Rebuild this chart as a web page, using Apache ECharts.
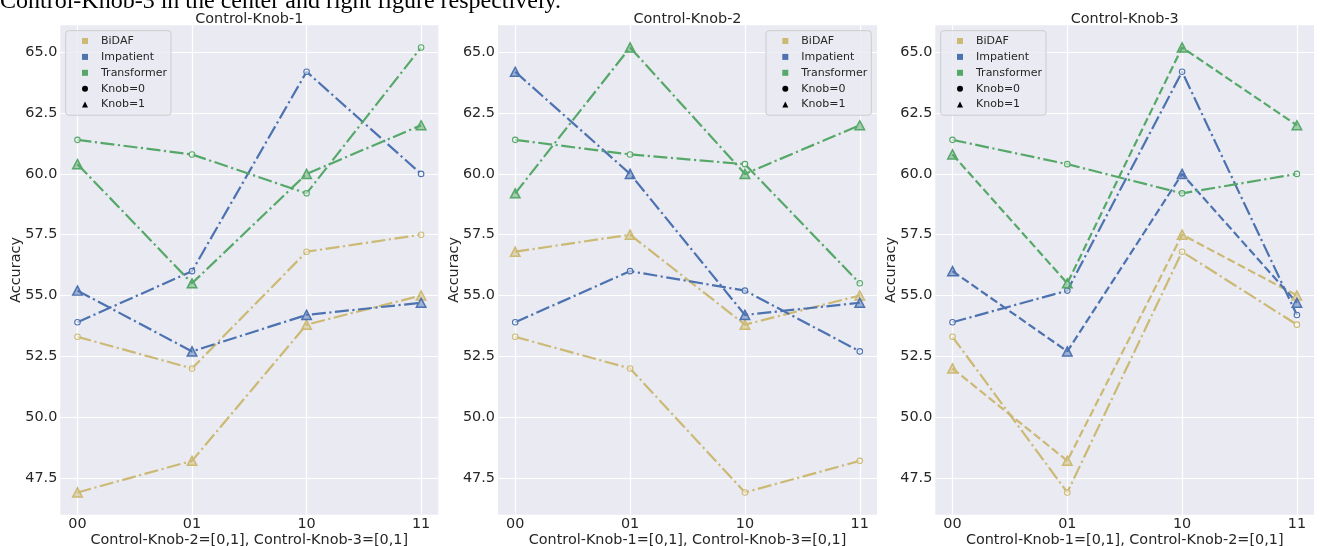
<!DOCTYPE html>
<html>
<head>
<meta charset="utf-8">
<script src="https://cdn.jsdelivr.net/npm/echarts@6/dist/echarts.min.js"></script>
<style>
html,body{margin:0;padding:0;background:#fff;}
#c{width:1320px;height:546px;}
</style>
</head>
<body>
<div id="c"></div>
<script>
// ---- data ----
const xLabels = ['00', '01', '10', '11'];
const yTicks = [47.5, 50.0, 52.5, 55.0, 57.5, 60.0, 62.5, 65.0];
const panelTitles = ['Control-Knob-1', 'Control-Knob-2', 'Control-Knob-3'];
const xNames = ['Control-Knob-2=[0,1], Control-Knob-3=[0,1]',
                'Control-Knob-1=[0,1], Control-Knob-3=[0,1]',
                'Control-Knob-1=[0,1], Control-Knob-2=[0,1]'];
const models = ['BiDAF', 'Impatient', 'Transformer'];
const caption = 'Control-Knob-3 in the center and right figure respectively.';

// panel 1
const p1_bidaf_k0 = [53.3, 52.0, 56.8, 57.5];
const p1_bidaf_k1 = [46.9, 48.2, 53.8, 55.0];
const p1_imp_k0 = [53.9, 56.0, 64.2, 60.0];
const p1_imp_k1 = [55.2, 52.7, 54.2, 54.7];
const p1_tr_k0 = [61.4, 60.8, 59.2, 65.2];
const p1_tr_k1 = [60.4, 55.5, 60.0, 62.0];
// panel 2
const p2_bidaf_k0 = [53.3, 52.0, 46.9, 48.2];
const p2_bidaf_k1 = [56.8, 57.5, 53.8, 55.0];
const p2_imp_k0 = [53.9, 56.0, 55.2, 52.7];
const p2_imp_k1 = [64.2, 60.0, 54.2, 54.7];
const p2_tr_k0 = [61.4, 60.8, 60.4, 55.5];
const p2_tr_k1 = [59.2, 65.2, 60.0, 62.0];
// panel 3
const p3_bidaf_k0 = [53.3, 46.9, 56.8, 53.8];
const p3_bidaf_k1 = [52.0, 48.2, 57.5, 55.0];
const p3_imp_k0 = [53.9, 55.2, 64.2, 54.2];
const p3_imp_k1 = [56.0, 52.7, 60.0, 54.7];
const p3_tr_k0 = [61.4, 60.4, 59.2, 60.0];
const p3_tr_k1 = [60.8, 55.5, 65.2, 62.0];

const panels = [
  [[p1_bidaf_k0, p1_bidaf_k1], [p1_imp_k0, p1_imp_k1], [p1_tr_k0, p1_tr_k1]],
  [[p2_bidaf_k0, p2_bidaf_k1], [p2_imp_k0, p2_imp_k1], [p2_tr_k0, p2_tr_k1]],
  [[p3_bidaf_k0, p3_bidaf_k1], [p3_imp_k0, p3_imp_k1], [p3_tr_k0, p3_tr_k1]]
];

// ---- styles ----
const colors = ['#ccb974', '#4c72b0', '#55a868'];
const fillAlpha = ['rgba(204,185,116,0.5)', 'rgba(76,114,176,0.5)', 'rgba(85,168,104,0.5)'];
const FONT = 'DejaVu Sans';
const TXT = '#262626';
const grids = [
  {left: 60.3, width: 378, top: 25.2, height: 489.5},
  {left: 498.0, width: 379, top: 25.2, height: 489.5},
  {left: 935.3, width: 378.8, top: 25.2, height: 489.5}
];
const legendLefts = [65.7, 766, 940.7];
const dashDot = [14, 3.5, 2.2, 3.5];
const dashed = [8.1, 3.5];
// line style per panel: [knob0, knob1]
const panelDash = [[dashDot, dashDot], [dashDot, dashDot], [dashDot, dashed]];

const option = {
  animation: false,
  backgroundColor: '#ffffff',
  textStyle: {fontFamily: FONT},
  graphic: [{
    type: 'text', left: 0, top: -10,
    style: {text: caption, font: '24px "Liberation Serif"', fill: '#000'}
  }],
  title: [],
  grid: [],
  xAxis: [],
  yAxis: [],
  legend: [],
  series: []
};

grids.forEach((g, i) => {
  option.grid.push(Object.assign({show: true, backgroundColor: '#eaeaf2', borderWidth: 0,
    containLabel: false, outerBoundsMode: 'none'}, g));
  option.title.push({
    text: panelTitles[i], left: g.left + g.width / 2, top: 11, textAlign: 'center', padding: 0,
    textStyle: {fontFamily: FONT, fontSize: 14.4, fontWeight: 'normal', color: TXT, lineHeight: 16}
  });
  option.xAxis.push({
    gridIndex: i, type: 'value', min: -0.15, max: 3.15,
    axisLine: {show: false}, axisTick: {show: false, customValues: [0, 1, 2, 3]},
    axisLabel: {customValues: [0, 1, 2, 3], formatter: v => xLabels[Math.round(v)],
      fontFamily: FONT, fontSize: 14.4, color: TXT, margin: 2.5},
    splitLine: {show: true, lineStyle: {color: '#ffffff', width: 1.2}},
    name: xNames[i], nameLocation: 'middle', nameGap: 19, nameMoveOverlap: false,
    nameTextStyle: {fontFamily: FONT, fontSize: 14.4, color: TXT}
  });
  option.yAxis.push({
    gridIndex: i, type: 'value', min: 45.985, max: 66.115,
    axisLine: {show: false}, axisTick: {show: false, customValues: yTicks},
    axisLabel: {customValues: yTicks, formatter: v => v.toFixed(1),
      fontFamily: FONT, fontSize: 14.4, color: TXT, margin: 3},
    splitLine: {show: true, lineStyle: {color: '#ffffff', width: 1.2}},
    name: 'Accuracy', nameLocation: 'middle', nameGap: 37, nameRotate: 90, nameMoveOverlap: false,
    nameTextStyle: {fontFamily: FONT, fontSize: 14.4, color: TXT}
  });
  option.legend.push({
    orient: 'vertical', left: legendLefts[i], top: 30.7,
    padding: [4.3, 4, 4.6, 16.3],
    backgroundColor: 'rgba(234,234,242,0.8)', borderColor: '#cccccc', borderWidth: 1, borderRadius: 3,
    itemWidth: 6, itemHeight: 6, itemGap: 3.9,
    selectedMode: false,
    textStyle: {fontFamily: FONT, fontSize: 11, color: TXT, lineHeight: 12, padding: [0, 0, 0, 8]},
    itemStyle: {borderWidth: 0},
    data: [
      {name: models[0], icon: 'rect', itemStyle: {color: colors[0], borderWidth: 0}},
      {name: models[1], icon: 'rect', itemStyle: {color: colors[1], borderWidth: 0}},
      {name: models[2], icon: 'rect', itemStyle: {color: colors[2], borderWidth: 0}},
      {name: 'Knob=0', icon: 'circle', itemStyle: {color: '#000', borderWidth: 0}},
      {name: 'Knob=1', icon: 'triangle', itemStyle: {color: '#000', borderWidth: 0}}
    ],
    z: 10
  });

  panels[i].forEach((pair, m) => {
    pair.forEach((vals, k) => {
      option.series.push({
        type: 'line', name: models[m], xAxisIndex: i, yAxisIndex: i,
        data: vals.map((v, j) => [j, v]),
        symbol: k === 0 ? 'circle' : 'triangle',
        symbolSize: k === 0 ? 5.5 : [9.5, 9],
        showSymbol: true,
        lineStyle: {color: colors[m], width: 2.2, type: panelDash[i][k]},
        itemStyle: {color: k === 0 ? 'rgba(255,255,255,0.55)' : fillAlpha[m], borderColor: colors[m], borderWidth: k === 0 ? 1.1 : 1.5},
        emphasis: {disabled: true},
        z: 2
      });
    });
  });
});
// legend-only series for the marker keys
option.series.push({type: 'line', name: 'Knob=0', data: [], xAxisIndex: 0, yAxisIndex: 0, itemStyle: {color: '#000'}});
option.series.push({type: 'line', name: 'Knob=1', data: [], xAxisIndex: 0, yAxisIndex: 0, itemStyle: {color: '#000'}});

const chart = echarts.init(document.getElementById('c'), null, {renderer: 'canvas'});
chart.setOption(option);
</script>
</body>
</html>
